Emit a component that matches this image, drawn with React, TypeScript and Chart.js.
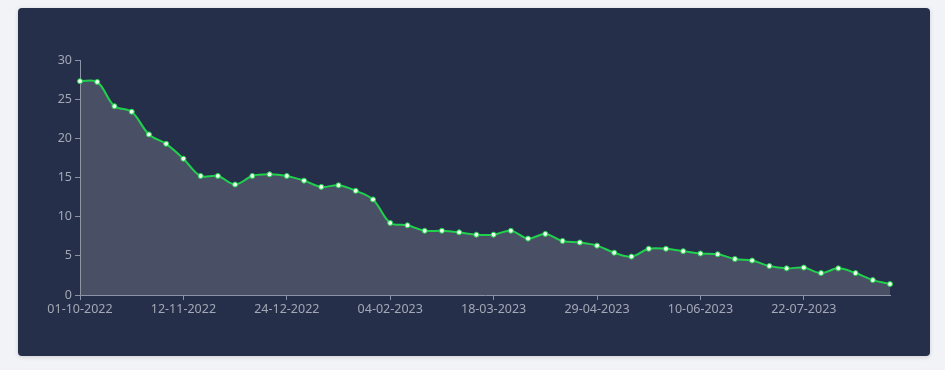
import React, { useEffect, useRef } from "react";
import { Chart, registerables } from "chart.js";

Chart.register(...registerables);

const START = "2022-10-01";
const WEEKS = 48;
const dates: string[] = [];
{
  const d0 = new Date(START + "T00:00:00Z");
  for (let i = 0; i < WEEKS; i++) {
    const d = new Date(d0.getTime() + i * 7 * 86400000);
    const dd = String(d.getUTCDate()).padStart(2, "0");
    const mm = String(d.getUTCMonth() + 1).padStart(2, "0");
    dates.push(`${dd}-${mm}-${d.getUTCFullYear()}`);
  }
}

const values: number[] = [
  27.3, 27.2, 24.1, 23.4, 20.5, 19.3, 17.4, 15.2, 15.2, 14.1, 15.2, 15.4,
  15.2, 14.6, 13.8, 14.0, 13.3, 12.2, 9.2, 8.9, 8.2, 8.2, 8.0, 7.7,
  7.7, 8.2, 7.2, 7.8, 6.9, 6.7, 6.3, 5.4, 4.9, 5.9, 5.9, 5.6,
  5.3, 5.2, 4.6, 4.4, 3.7, 3.4, 3.5, 2.8, 3.4, 2.8, 1.9, 1.4,
];

const yTicks: number[] = [0, 5, 10, 15, 20, 25, 30];
const LABEL_EVERY = 6;

export default function App() {
  const ref = useRef<HTMLCanvasElement | null>(null);
  useEffect(() => {
    if (!ref.current) return;
    const axisColor = "#8c93a6";
    const textColor = "#a3a8b6";
    const chart = new Chart(ref.current, {
      type: "line",
      data: {
        labels: dates,
        datasets: [
          {
            data: values,
            borderColor: "#1fd14c",
            borderWidth: 2,
            backgroundColor: "rgba(150,150,155,0.32)",
            fill: "origin",
            tension: 0.35,
            pointRadius: 2.5,
            pointBorderWidth: 1,
            pointBackgroundColor: "#eaffea",
            pointBorderColor: "#1fd14c",
          },
        ],
      },
      options: {
        animation: false,
        responsive: false,
        maintainAspectRatio: false,
        layout: { padding: { left: 40, right: 55, top: 60, bottom: 55 } },
        plugins: { legend: { display: false }, tooltip: { enabled: false } },
        scales: {
          x: {
            type: "category",
            offset: false,
            grid: {
              display: true,
              drawOnChartArea: false,
              drawTicks: true,
              tickLength: 5,
              color: axisColor,
            },
            border: { display: true, color: axisColor },
            ticks: {
              autoSkip: false,
              maxRotation: 0,
              color: textColor,
              font: { family: "Noto Sans", size: 12.5 },
              padding: 2,
              callback: (_v: any, i: number) => (i % LABEL_EVERY === 0 ? dates[i] : null),
            },
            afterFit: (s: any) => {
              s.height = 20;
            },
          },
          y: {
            min: 0,
            max: 30,
            grid: {
              display: true,
              drawOnChartArea: false,
              drawTicks: true,
              tickLength: 5,
              color: axisColor,
            },
            border: { display: true, color: axisColor },
            afterBuildTicks: (s: any) => {
              s.ticks = yTicks.map((v) => ({ value: v }));
            },
            ticks: {
              color: textColor,
              font: { family: "Noto Sans", size: 12.5 },
              padding: 3,
            },
            afterFit: (s: any) => {
              s.width = 40;
            },
          },
        },
      },
    });
    return () => chart.destroy();
  }, []);

  return (
    <div style={{ position: "fixed", left: 0, top: 0, width: 945, height: 370, background: "#f1f3f7" }}>
      <div
        style={{
          position: "absolute",
          left: 18,
          top: 8,
          width: 912,
          height: 348,
          background: "#262f4a",
          borderRadius: 4,
          boxShadow: "0 1px 4px rgba(0,0,0,0.15)",
        }}
      />
      <canvas ref={ref} width={945} height={370} style={{ position: "absolute", left: 0, top: 0 }} />
    </div>
  );
}
